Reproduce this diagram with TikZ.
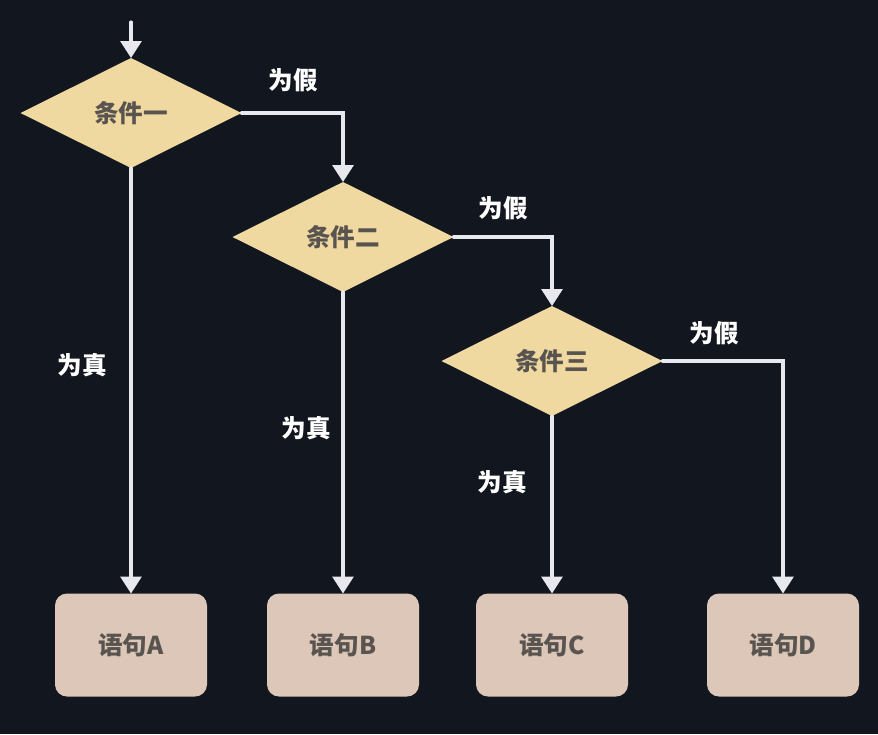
\documentclass[tikz,border=0pt]{standalone}
\usepackage{fontspec}
\setmainfont{Noto Sans CJK SC}
\usetikzlibrary{shapes.geometric,arrows.meta}

\definecolor{bgcol}{HTML}{12161F}
\definecolor{condcol}{HTML}{F0D9A0}
\definecolor{stmtcol}{HTML}{DCC7B9}
\definecolor{inkcol}{HTML}{595450}
\definecolor{linecol}{HTML}{E8E9EE}

\tikzset{
	cond/.style={diamond,fill=condcol,minimum width=4.42cm,minimum height=2.2cm,inner sep=0pt,outer sep=0pt,text=inkcol,font=\bfseries\fontsize{14}{16}\selectfont},
	stmt/.style={rectangle,rounded corners=0.24cm,fill=stmtcol,minimum width=3.04cm,minimum height=2.06cm,outer sep=0pt,text=inkcol,font=\bfseries\fontsize{14}{16}\selectfont},
	lbl/.style={text=white,font=\bfseries\fontsize{14}{16}\selectfont},
	flow/.style={draw=linecol,line width=1.8pt,line cap=round,-{Triangle[width=0.42cm,length=0.34cm]}}
}

\begin{document}
\begin{tikzpicture}
		\fill[bgcol] (0,0) rectangle (17.56,-14.68);
		\useasboundingbox (0,0) rectangle (17.56,-14.68);

		\coordinate (start) at (2.62,-0.44);
		\node[cond] (c1) at (2.62,-2.26) {条件一};
		\node[cond] (c2) at (6.86,-4.74) {条件二};
		\node[cond] (c3) at (11.04,-7.22) {条件三};

		\node[stmt] (sa) at (2.62,-12.9) {语句A};
		\node[stmt] (sb) at (6.86,-12.9) {语句B};
		\node[stmt] (sc) at (11.04,-12.9) {语句C};
		\node[stmt] (sd) at (15.66,-12.9) {语句D};

		\draw[flow] (start) -- (c1.north);
		\draw[flow] (c1.south) -- (sa.north);
		\draw[flow] (c2.south) -- (sb.north);
		\draw[flow] (c3.south) -- (sc.north);
		\draw[flow] (c1.east) -| (c2.north);
		\draw[flow] (c2.east) -| (c3.north);
		\draw[flow] (c3.east) -| (sd.north);

		\node[lbl] (f1) at (5.86,-1.6) {为假};
		\node[lbl] (f2) at (10.06,-4.16) {为假};
		\node[lbl] (f3) at (14.28,-6.66) {为假};
		\node[lbl] (t1) at (1.64,-7.3) {为真};
		\node[lbl] (t2) at (6.12,-8.56) {为真};
		\node[lbl] (t3) at (10.04,-9.64) {为真};
	\end{tikzpicture}
\end{document}
